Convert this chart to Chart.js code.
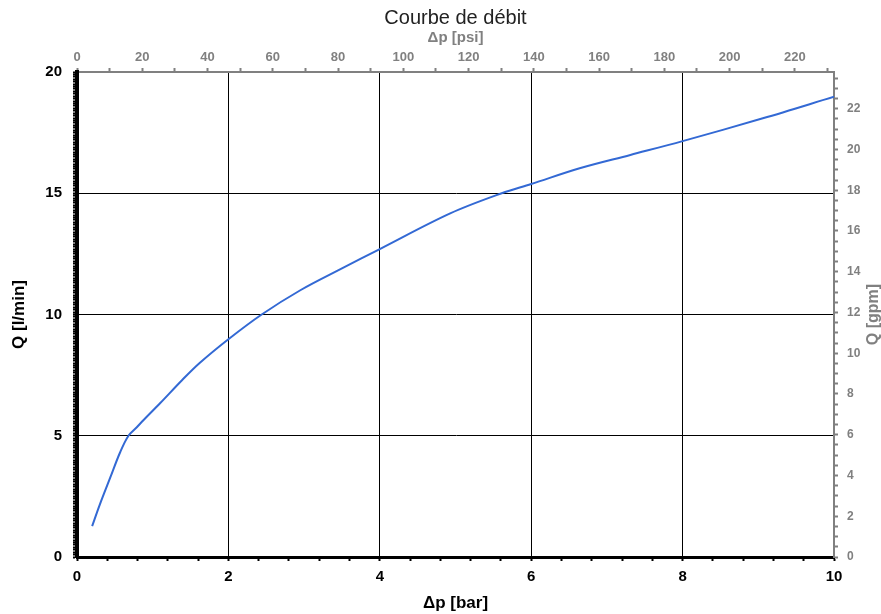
<!DOCTYPE html>
<html lang="fr">
<head>
<meta charset="utf-8">
<title>Courbe de débit</title>
<script src="https://cdn.jsdelivr.net/npm/chart.js@4/dist/chart.umd.min.js"></script>
<style>
  html, body { margin: 0; padding: 0; background: #fff; }
</style>
</head>
<body>
<canvas id="chart" width="881" height="614"></canvas>
<script>
// DATA
const pressureBar = [0.2, 0.3, 0.44, 0.57, 0.68, 0.79, 0.88, 1.1, 1.39, 1.62, 2.0, 2.44, 2.95, 3.5, 4.0, 4.93, 5.61, 6.0, 6.64, 7.31, 8.0, 9.06, 10.0];
const flowLpm = [1.27, 2.15, 3.28, 4.32, 5.0, 5.35, 5.65, 6.35, 7.3, 8.0, 8.98, 10.0, 11.0, 11.9, 12.7, 14.17, 15.0, 15.38, 16.03, 16.58, 17.15, 18.09, 18.98];

// TICK LABELS
const barLabels = [0, 2, 4, 6, 8, 10];
const lpmLabels = [0, 5, 10, 15, 20];
const psiLabels = [0, 20, 40, 60, 80, 100, 120, 140, 160, 180, 200, 220];
const gpmLabels = [0, 2, 4, 6, 8, 10, 12, 14, 16, 18, 20, 22];
const barGrid = [2, 4, 6, 8];
const lpmGrid = [5, 10, 15];

const GREY = "#808080";
const FONT = "'Liberation Sans', Arial, sans-serif";

function onlyLabels(list) {
  return (value) => (list.includes(value) ? String(value) : "");
}

function gridFor(list) {
  return (ctx) => (ctx.tick && list.includes(ctx.tick.value) ? "#000" : "rgba(0,0,0,0)");
}

// right axis title reads bottom-to-top, chart.js would rotate it the other way
const rightTitle = {
  id: "rightTitle",
  afterDraw(chart) {
    const s = chart.scales.y2;
    const ctx = chart.ctx;
    ctx.save();
    ctx.translate(s.right - 7, (chart.chartArea.top + chart.chartArea.bottom) / 2);
    ctx.rotate(-Math.PI / 2);
    ctx.font = "bold 16px " + FONT;
    ctx.fillStyle = GREY;
    ctx.textAlign = "center";
    ctx.textBaseline = "middle";
    ctx.fillText("Q [gpm]", 0, 0);
    ctx.restore();
  },
};

new Chart(document.getElementById("chart"), {
  type: "line",
  data: {
    datasets: [
      {
        data: pressureBar.map((x, i) => ({ x, y: flowLpm[i] })),
        borderColor: "#3369d4",
        borderWidth: 2,
        pointRadius: 0,
        tension: 0.35,
        xAxisID: "x",
        yAxisID: "y",
      },
    ],
  },
  options: {
    responsive: false,
    animation: false,
    layout: { padding: 0 },
    plugins: {
      legend: { display: false },
      tooltip: { enabled: false },
      title: {
        display: true,
        text: "Courbe de débit",
        fullSize: false,
        color: "#222",
        font: { family: FONT, size: 20, weight: "normal", lineHeight: 1.1 },
        padding: { top: 7, bottom: 0 },
      },
    },
    scales: {
      x: {
        type: "linear",
        position: "bottom",
        min: 0,
        max: 10,
        afterFit: (s) => { s.height = 57; },
        border: { color: "#000", width: 3 },
        grid: { color: gridFor(barGrid), tickColor: "#000", tickLength: 4, tickWidth: 2, lineWidth: 1 },
        ticks: {
          stepSize: 0.4,
          autoSkip: false,
          maxRotation: 0,
          padding: 7,
          color: "#000",
          font: { family: FONT, size: 15, weight: "bold" },
          callback: onlyLabels(barLabels),
        },
        title: {
          display: true,
          text: "Δp [bar]",
          color: "#000",
          font: { family: FONT, size: 17, weight: "bold" },
          padding: { top: 0, bottom: 0 },
        },
      },
      x2: {
        type: "linear",
        position: "top",
        min: 0,
        max: 232,
        afterFit: (s) => { s.height = 43; },
        border: { color: GREY, width: 2 },
        grid: { drawOnChartArea: false, color: GREY, tickLength: 4, tickWidth: 2 },
        ticks: {
          stepSize: 10,
          includeBounds: false,
          autoSkip: false,
          maxRotation: 0,
          padding: 3,
          color: GREY,
          font: { family: FONT, size: 13, weight: "bold" },
          callback: onlyLabels(psiLabels),
        },
        title: {
          display: true,
          text: "Δp [psi]",
          color: GREY,
          font: { family: FONT, size: 15, weight: "bold", lineHeight: 1 },
          padding: { top: 1, bottom: 0 },
        },
      },
      y: {
        type: "linear",
        position: "left",
        min: 0,
        max: 20,
        afterFit: (s) => { s.width = 77; },
        border: { color: "#000", width: 4 },
        grid: { color: gridFor(lpmGrid), tickColor: "#000", tickLength: 4, tickWidth: 2, lineWidth: 1 },
        ticks: {
          stepSize: 0.1,
          autoSkip: false,
          padding: 11,
          color: "#000",
          font: { family: FONT, size: 15, weight: "bold" },
          callback: onlyLabels(lpmLabels),
        },
        title: {
          display: true,
          text: "Q [l/min]",
          color: "#000",
          font: { family: FONT, size: 17, weight: "bold" },
          padding: { top: 9, bottom: 0 },
        },
      },
      y2: {
        type: "linear",
        position: "right",
        min: 0,
        max: 23.8,
        afterFit: (s) => { s.width = 47; },
        border: { color: GREY, width: 2 },
        grid: { drawOnChartArea: false, color: GREY, tickLength: 4, tickWidth: 2 },
        ticks: {
          stepSize: 0.5,
          includeBounds: false,
          autoSkip: false,
          padding: 9,
          color: GREY,
          font: { family: FONT, size: 12, weight: "bold" },
          callback: onlyLabels(gpmLabels),
        },
      },
    },
  },
  plugins: [rightTitle],
});
</script>
</body>
</html>
